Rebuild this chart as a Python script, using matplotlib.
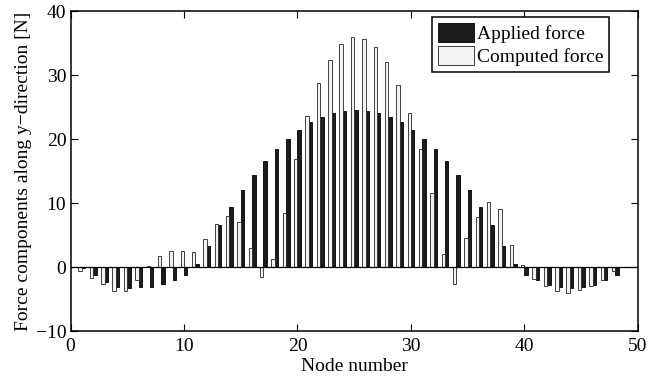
import numpy as np
import matplotlib
matplotlib.use("Agg")
from matplotlib import pyplot as plt

plt.rcParams['font.family'] = ['Liberation Serif', 'DejaVu Serif']

# node numbers 1..48
nodes = np.arange(1, 49)

# applied force (black bars)
applied = [-0.1, -1.25, -2.3, -3.2, -3.3, -3.2, -3.1, -2.7, -2.0, -1.2,
           0.4, 3.3, 6.5, 9.4, 12.0, 14.4, 16.6, 18.4, 20.0, 21.4,
           22.6, 23.4, 24.1, 24.4, 24.6, 24.4, 24.1, 23.4, 22.6, 21.4,
           20.0, 18.4, 16.6, 14.4, 12.0, 9.4, 6.6, 3.3, 0.4, -1.2,
           -2.0, -2.8, -3.2, -3.3, -3.2, -2.8, -2.0, -1.2]

# computed force (white bars)
computed = [-0.7, -1.7, -2.7, -3.75, -3.75, -2.0, 0.1, 1.7, 2.5, 2.5,
            2.4, 4.3, 6.7, 8.0, 7.0, 3.0, -1.5, 1.3, 8.5, 16.9,
            23.6, 28.75, 32.4, 34.8, 35.9, 35.7, 34.4, 32.0, 28.4, 24.0,
            18.5, 11.6, 2.0, -2.6, 4.6, 7.8, 10.2, 9.1, 3.5, 0.3,
            -1.8, -3.0, -3.75, -4.0, -3.6, -3.0, -2.0, -0.6]

fs = 14

fig = plt.figure(figsize=(6.51, 3.82), dpi=100)
ax = fig.add_axes([0.1083, 0.1335, 0.8717, 0.8377])

w = 0.3
ax.bar(nodes + w/2, applied, width=w, color='#1c1c1c', edgecolor='black',
       linewidth=0.6, label='Applied force', zorder=2)
ax.bar(nodes - w/2, computed, width=w, color='#f2f4f2', edgecolor='#222222',
       linewidth=0.6, label='Computed force', zorder=2)
ax.axhline(0, color='black', linewidth=0.9, zorder=3)

ax.set_xlim(0, 50)
ax.set_ylim(-10, 40)
ax.set_xticks([0, 10, 20, 30, 40, 50])
ax.set_yticks([-10, 0, 10, 20, 30, 40])
ax.tick_params(direction='in', top=True, right=True, length=5, width=0.8,
               labelsize=fs, colors='black', pad=3)
ax.tick_params(axis='x', pad=5)
for s in ax.spines.values():
    s.set_linewidth(1.1)

ax.set_xlabel('Node number', fontsize=fs, labelpad=2)
ax.set_ylabel('Force components along y\u2212direction [N]', fontsize=fs, labelpad=3)

leg = ax.legend(loc='upper right', bbox_to_anchor=(0.949, 0.980), borderaxespad=0,
                fontsize=fs, fancybox=False, framealpha=1, edgecolor='black',
                handlelength=1.85, handleheight=1.1, handletextpad=0.15,
                borderpad=0.3, labelspacing=0.15)
leg.get_frame().set_linewidth(1.1)

fig.savefig('out.png', dpi=100)
